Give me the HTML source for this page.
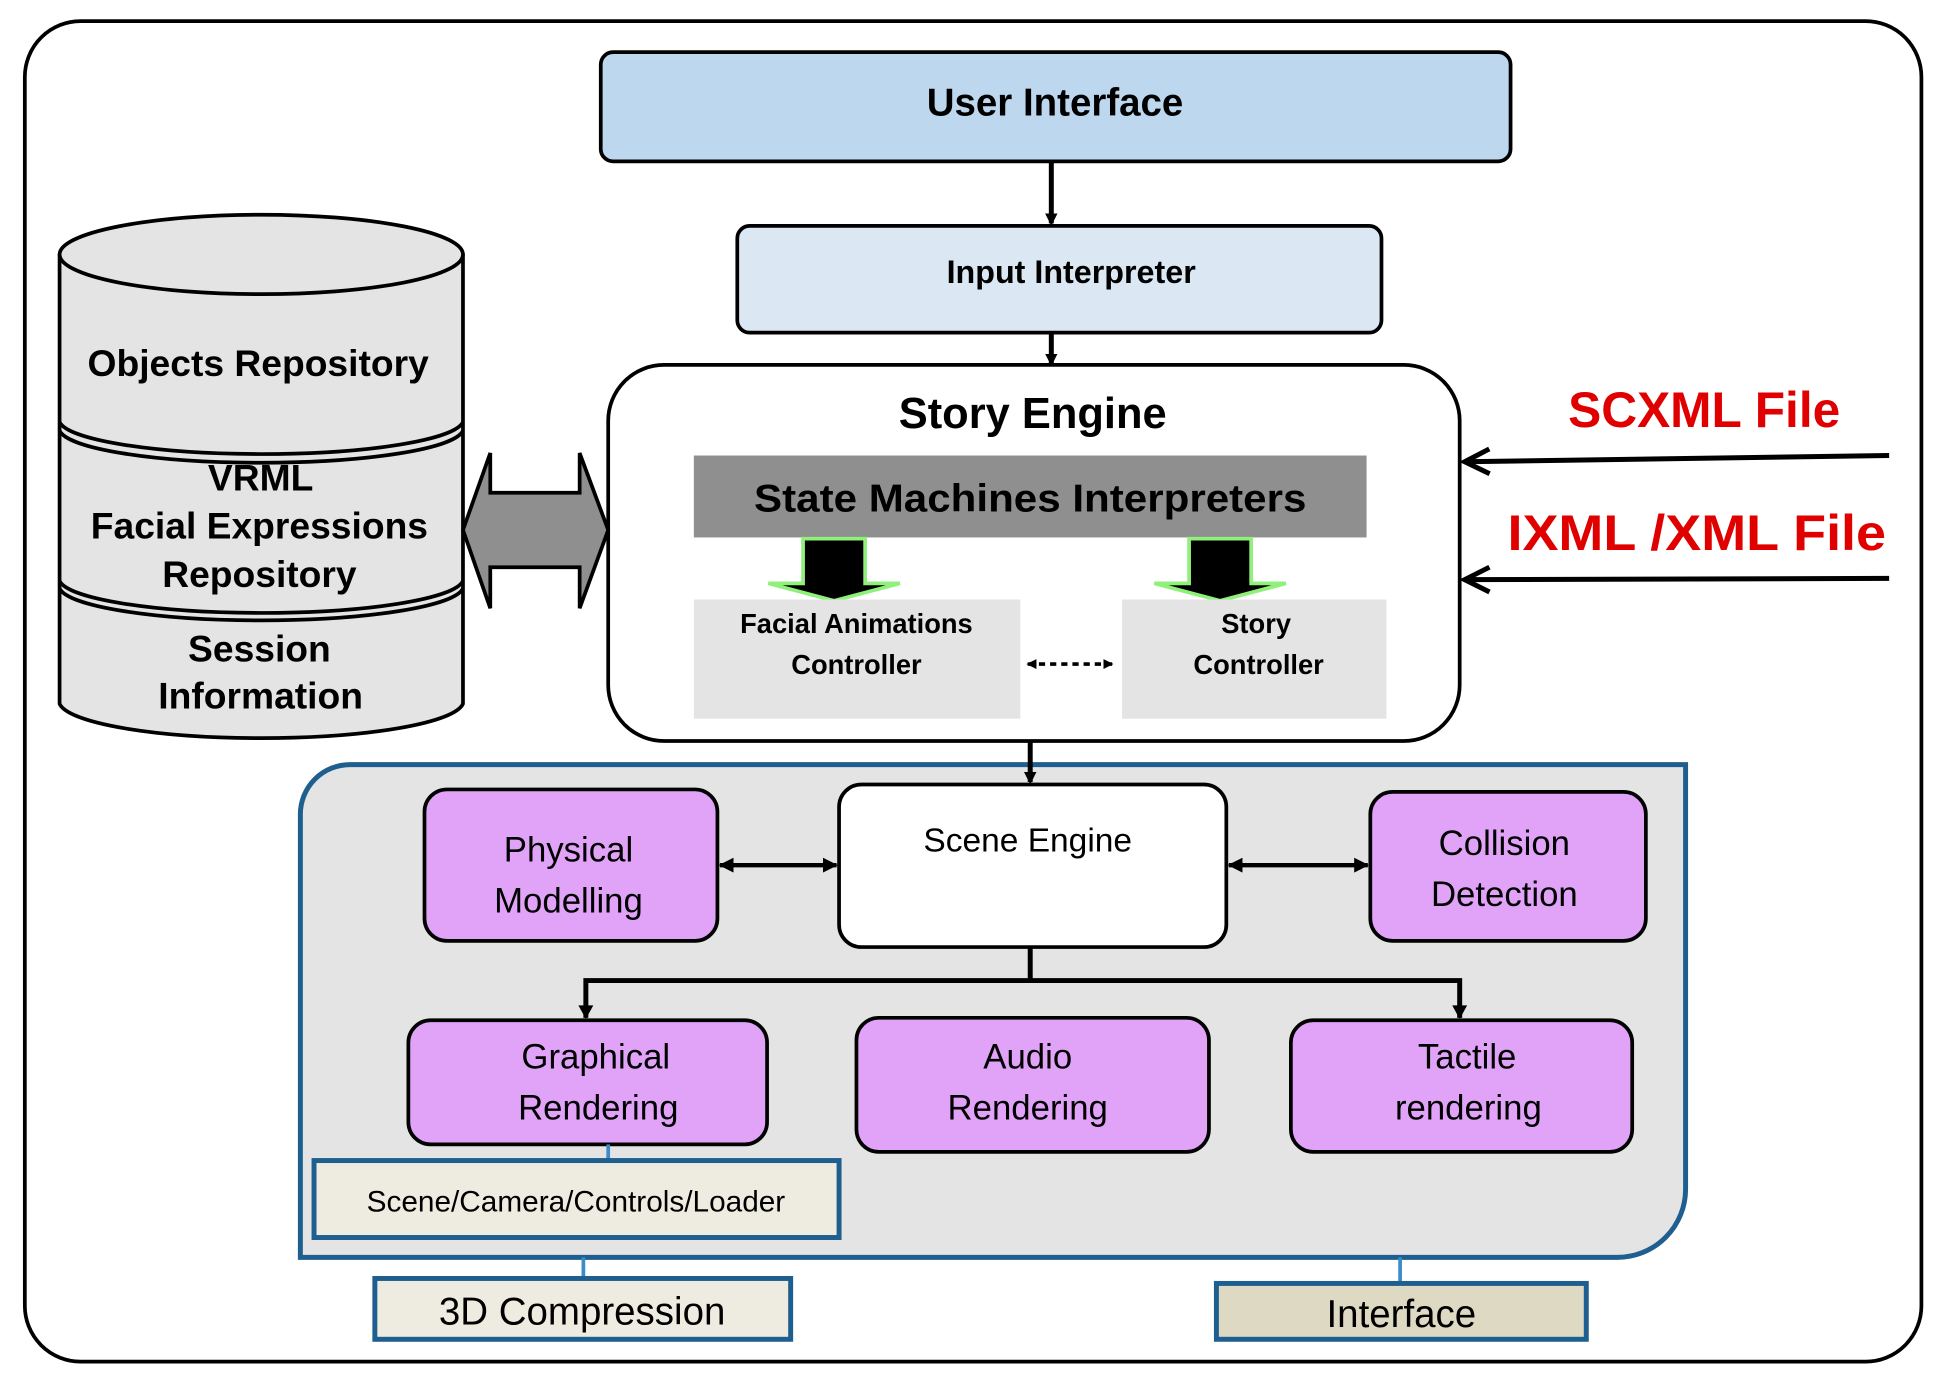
<!DOCTYPE html>
<html><head><meta charset="utf-8"><style>
html,body{margin:0;padding:0;background:#fff;}
svg{display:block;}
text{font-family:"Liberation Sans",sans-serif;}
</style></head><body>
<svg width="1945" height="1381" viewBox="0 0 1567 1112.6" preserveAspectRatio="none">
<defs>
<marker id="ah" markerWidth="10" markerHeight="10" refX="8" refY="5" orient="auto" markerUnits="userSpaceOnUse"><path d="M0,0 L10,5 L0,10 z" fill="#000"/></marker>
<marker id="ahs" markerWidth="8" markerHeight="8" refX="7" refY="4" orient="auto-start-reverse" markerUnits="userSpaceOnUse"><path d="M0,0 L8,4 L0,8 z" fill="#000"/></marker>
<marker id="ahb" markerWidth="12" markerHeight="12" refX="11" refY="6" orient="auto-start-reverse" markerUnits="userSpaceOnUse"><path d="M0,0 L12,6 L0,12 z" fill="#000"/></marker>
<marker id="open" markerWidth="26" markerHeight="24" refX="22" refY="12" orient="auto" markerUnits="userSpaceOnUse"><path d="M2,2 L22,12 L2,22" fill="none" stroke="#000" stroke-width="4"/></marker>
</defs>
<rect x="20" y="17" width="1528" height="1080" rx="45" fill="#fff" stroke="#000" stroke-width="3"/>

<rect x="484" y="42" width="733" height="88" rx="10" fill="#bdd7ee" stroke="#000" stroke-width="3"/>
<text x="850" y="93" font-size="31" font-weight="bold" text-anchor="middle">User Interface</text>
<line x1="847" y1="130" x2="847" y2="180" stroke="#000" stroke-width="4" marker-end="url(#ah)"/>
<rect x="594" y="182" width="519" height="86" rx="10" fill="#dbe8f4" stroke="#000" stroke-width="3"/>
<text x="863" y="228" font-size="26" font-weight="bold" text-anchor="middle">Input  Interpreter</text>
<line x1="847" y1="268" x2="847" y2="293" stroke="#000" stroke-width="4" marker-end="url(#ah)"/>

<rect x="490" y="294" width="686" height="303" rx="45" fill="#fff" stroke="#000" stroke-width="3"/>
<text x="832" y="345" font-size="35" font-weight="bold" text-anchor="middle">Story Engine</text>
<rect x="559" y="367" width="542" height="66" fill="#8f8f8f"/>
<text x="830" y="412" font-size="31" font-weight="bold" text-anchor="middle" textLength="445" lengthAdjust="spacingAndGlyphs">State Machines Interpreters</text>
<g fill="#000" stroke="#8ff07a" stroke-width="3">
<path d="M647,434 L697,434 L697,470 L725,470 L672,484 L619,470 L647,470 z"/>
<path d="M958,434 L1008,434 L1008,470 L1036,470 L983,484 L930,470 L958,470 z"/>
</g>
<rect x="559" y="483" width="263" height="96" fill="#e4e4e4"/>
<rect x="904" y="483" width="213" height="96" fill="#e4e4e4"/>
<text x="690" y="510" font-size="22" font-weight="bold" text-anchor="middle">Facial Animations</text>
<text x="690" y="543" font-size="22" font-weight="bold" text-anchor="middle">Controller</text>
<text x="1012" y="510" font-size="22" font-weight="bold" text-anchor="middle">Story</text>
<text x="1014" y="543" font-size="22" font-weight="bold" text-anchor="middle">Controller</text>
<line x1="828" y1="535" x2="896" y2="535" stroke="#000" stroke-width="3" stroke-dasharray="5,4" marker-start="url(#ahs)" marker-end="url(#ahs)"/>

<line x1="1522" y1="367" x2="1180" y2="372" stroke="#000" stroke-width="4" marker-end="url(#open)"/>
<line x1="1522" y1="466" x2="1180" y2="467" stroke="#000" stroke-width="4" marker-end="url(#open)"/>
<text x="1373" y="344" font-size="40" font-weight="bold" fill="#e00000" text-anchor="middle">SCXML File</text>
<text x="1367" y="443" font-size="40" font-weight="bold" fill="#e00000" text-anchor="middle" textLength="305" lengthAdjust="spacingAndGlyphs">IXML /XML File</text>

<g stroke="#000" stroke-width="3" fill="#e4e4e4">
<path d="M48,205 L48,567 A163,30 0 0 0 373,567 L373,205 A163,32 0 0 0 48,205 z"/>
<ellipse cx="210.5" cy="205" rx="162.5" ry="32"/>
<path d="M48,340 A163,28 0 0 0 373,340" fill="none"/>
<path d="M48,347 A163,28 0 0 0 373,347" fill="none"/>
<path d="M48,468 A163,28 0 0 0 373,468" fill="none"/>
<path d="M48,474 A163,28 0 0 0 373,474" fill="none"/>
</g>
<g font-size="30" font-weight="bold" text-anchor="middle">
<text x="208" y="303">Objects Repository</text>
<text x="210" y="395">VRML</text>
<text x="209" y="434">Facial Expressions</text>
<text x="209" y="473">Repository</text>
<text x="209" y="533">Session</text>
<text x="210" y="571">Information</text>
</g>
<path d="M373,427 L395,365 L395,397 L467,397 L467,365 L490,427 L467,490 L467,457 L395,457 L395,490 z" fill="#8f8f8f" stroke="#000" stroke-width="3"/>

<path d="M282,616 L1358,616 L1358,958 A55,55 0 0 1 1303,1013 L242,1013 L242,656 A40,40 0 0 1 282,616 z" fill="#e4e4e4" stroke="#1f5f8f" stroke-width="4"/>
<line x1="830" y1="597" x2="830" y2="630" stroke="#000" stroke-width="4" marker-end="url(#ah)"/>
<rect x="676" y="632" width="312" height="131" rx="18" fill="#fff" stroke="#000" stroke-width="3"/>
<text x="828" y="686" font-size="27" text-anchor="middle">Scene Engine</text>
<g fill="#e0a3f8" stroke="#000" stroke-width="3">
<rect x="342" y="636" width="236" height="122" rx="18"/>
<rect x="1104" y="638" width="222" height="120" rx="18"/>
<rect x="329" y="822" width="289" height="100" rx="18"/>
<rect x="690" y="820" width="284" height="108" rx="18"/>
<rect x="1040" y="822" width="275" height="106" rx="18"/>
</g>
<g font-size="28" text-anchor="middle">
<text x="458" y="694">Physical</text><text x="458" y="735">Modelling</text>
<text x="1212" y="689">Collision</text><text x="1212" y="730">Detection</text>
<text x="480" y="861">Graphical</text><text x="482" y="902">Rendering</text>
<text x="828" y="861">Audio</text><text x="828" y="902">Rendering</text>
<text x="1182" y="861">Tactile</text><text x="1183" y="902">rendering</text>
</g>
<line x1="580" y1="697" x2="674" y2="697" stroke="#000" stroke-width="3.5" marker-start="url(#ahb)" marker-end="url(#ahb)"/>
<line x1="990" y1="697" x2="1102" y2="697" stroke="#000" stroke-width="3.5" marker-start="url(#ahb)" marker-end="url(#ahb)"/>
<polyline points="830,763 830,790" fill="none" stroke="#000" stroke-width="4"/>
<polyline points="472,820 472,790 1176,790 1176,820" fill="none" stroke="#000" stroke-width="4"/>
<path d="M466,810 L478,810 L472,821 z M1170,810 L1182,810 L1176,821 z"/>

<line x1="490" y1="922" x2="490" y2="935" stroke="#3a8cc8" stroke-width="3"/>
<line x1="470" y1="1013" x2="470" y2="1030" stroke="#3a8cc8" stroke-width="3"/>
<line x1="1128" y1="1013" x2="1128" y2="1034" stroke="#3a8cc8" stroke-width="3"/>
<rect x="253" y="935" width="423" height="62" fill="#eeece1" stroke="#1f5f8f" stroke-width="4"/>
<text x="464" y="976" font-size="24" text-anchor="middle">Scene/Camera/Controls/Loader</text>
<rect x="302" y="1030" width="335" height="49" fill="#eeece1" stroke="#1f5f8f" stroke-width="4"/>
<text x="469" y="1067" font-size="31" text-anchor="middle">3D Compression</text>
<rect x="980" y="1034" width="298" height="45" fill="#ddd9c3" stroke="#1f5f8f" stroke-width="4"/>
<text x="1129" y="1069" font-size="31" text-anchor="middle">Interface</text>
</svg>
</body></html>
